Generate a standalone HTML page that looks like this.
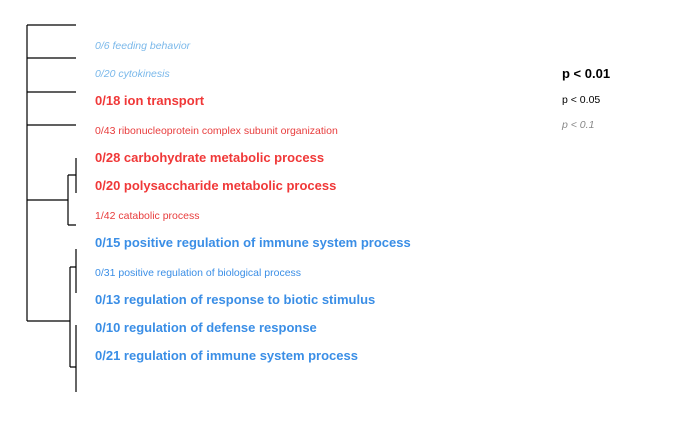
<!DOCTYPE html>
<html><head><meta charset="utf-8"><style>
body{margin:0;background:#fff;width:700px;height:432px;overflow:hidden}
svg{display:block;font-family:"Liberation Sans",Arial,sans-serif}
</style></head><body>
<svg width="700" height="432">
<g stroke="#000" stroke-width="1.2" fill="none">
<path d="M27,25H76M27,58H76M27,92H76M27,125H76M27,25V321"/>
<path d="M27,200H68M68,175V225M68,175H76M76,158V193M68,225H76"/>
<path d="M27,321H70M70,267V367M70,267H76M76,249V293M70,367H76M76,325V392"/>
</g>
<g>
<text x="95" y="49" font-size="10.5" font-style="italic" fill="#7ab8ea">0/6 feeding behavior</text>
<text x="95" y="77" font-size="10.5" font-style="italic" fill="#7ab8ea">0/20 cytokinesis</text>
<text x="95" y="105" font-size="13" font-weight="bold" fill="#f03838">0/18 ion transport</text>
<text x="95" y="134" font-size="10.5" fill="#e83c3c">0/43 ribonucleoprotein complex subunit organization</text>
<text x="95" y="162" font-size="13" font-weight="bold" fill="#f03838">0/28 carbohydrate metabolic process</text>
<text x="95" y="190" font-size="13" font-weight="bold" fill="#f03838">0/20 polysaccharide metabolic process</text>
<text x="95" y="219" font-size="10.5" fill="#e83c3c">1/42 catabolic process</text>
<text x="95" y="247" font-size="13" font-weight="bold" fill="#3a8ee6">0/15 positive regulation of immune system process</text>
<text x="95" y="276" font-size="10.5" fill="#3a8ee6">0/31 positive regulation of biological process</text>
<text x="95" y="304" font-size="13" font-weight="bold" fill="#3a8ee6">0/13 regulation of response to biotic stimulus</text>
<text x="95" y="332" font-size="13" font-weight="bold" fill="#3a8ee6">0/10 regulation of defense response</text>
<text x="95" y="360" font-size="13" font-weight="bold" fill="#3a8ee6">0/21 regulation of immune system process</text>
</g>
<g>
<text x="562" y="78" font-size="13" font-weight="bold" fill="#000">p &lt; 0.01</text>
<text x="562" y="103" font-size="10.5" fill="#000">p &lt; 0.05</text>
<text x="562" y="128" font-size="10.5" font-style="italic" fill="#888">p &lt; 0.1</text>
</g>
</svg>
</body></html>
